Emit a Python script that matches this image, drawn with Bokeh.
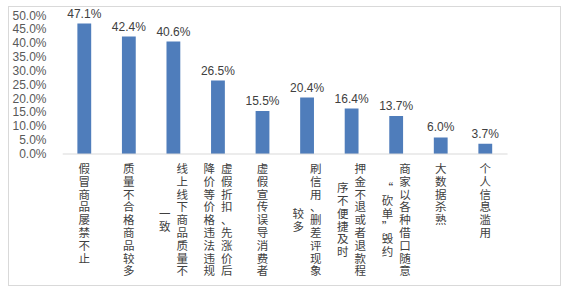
from bokeh.plotting import figure
from bokeh.models import FixedTicker, ColumnDataSource
from bokeh.core.properties import value
from bokeh.embed import file_html
from bokeh.resources import INLINE

categories = [
    "假冒商品屡禁不止",
    "质量不合格商品较多",
    "线上线下商品质量不一致",
    "虚假折扣、先涨价后降价等价格违法违规",
    "虚假宣传误导消费者",
    "刷信用、删差评现象较多",
    "押金不退或者退款程序不便捷及时",
    "商家以各种借口随意“砍单”毁约",
    "大数据杀熟",
    "个人信息滥用",
]
values = [0.471, 0.424, 0.406, 0.265, 0.155, 0.204, 0.164, 0.137, 0.060, 0.037]
value_labels = ["47.1%", "42.4%", "40.6%", "26.5%", "15.5%", "20.4%", "16.4%", "13.7%", "6.0%", "3.7%"]
y_ticks = [0.0, 0.05, 0.10, 0.15, 0.20, 0.25, 0.30, 0.35, 0.40, 0.45, 0.50]
y_tick_labels = ["0.0%", "5.0%", "10.0%", "15.0%", "20.0%", "25.0%", "30.0%", "35.0%", "40.0%", "45.0%", "50.0%"]

BAR = "#4f7dbb"
GRID = "#d9d9d9"
TXT = "#595959"

n = len(categories)
xs = list(range(n))

p = figure(
    width=553, height=280,
    x_range=(-0.489, 10.733), y_range=(-0.482, 0.529),
    output_backend="svg", toolbar_location=None,
    x_axis_location=None,
    min_border_left=47, min_border_right=0, min_border_top=0, min_border_bottom=0,
)
p.margin = (6, 0, 0, 8)
p.styles = {"border": "1px solid #d9d9d9"}
p.outline_line_color = None
p.grid.visible = False
p.background_fill_color = "white"
p.border_fill_color = "white"

ya = p.yaxis[0]
ya.ticker = FixedTicker(ticks=y_ticks)
ya.major_label_overrides = {t: l for t, l in zip(y_ticks, y_tick_labels)}
ya.axis_line_color = None
ya.major_tick_line_color = None
ya.minor_tick_line_color = None
ya.major_label_standoff = 10
ya.major_label_text_font = "Liberation Sans"
ya.major_label_text_font_size = "12px"
ya.major_label_text_color = TXT

src = ColumnDataSource(dict(x=xs, top=values, lab=value_labels))
p.vbar(x="x", top="top", bottom=0, width=0.31, source=src, fill_color=BAR, line_color=None)

# category axis line
p.segment(x0=[p.x_range.start], x1=[n - 0.5], y0=[0], y1=[0], line_color=GRID, line_width=1)

p.text(x="x", y="top", text="lab", source=src, text_align="center", text_baseline="bottom",
       y_offset=-3, text_font=value("Liberation Sans"), text_font_size="12px", text_color="#404040")

# vertical CJK category labels, one glyph per character
CH = 9
pitch = 12.8
cx, cy, ct, cxo, cyo = [], [], [], [], []
for i, lab in enumerate(categories):
    chunks = [lab[k:k + CH] for k in range(0, len(lab), CH)]
    ncol = len(chunks)
    mx = max(len(c) for c in chunks)
    for j, c in enumerate(chunks):
        for k, ch in enumerate(c):
            cx.append(i)
            cy.append(-6 / 276)
            ct.append(ch)
            cxo.append(((ncol - 1) / 2 - j) * 17.5)
            cyo.append(((mx - len(c)) / 2 + k) * pitch)
lsrc = ColumnDataSource(dict(x=cx, y=cy, t=ct, xo=cxo, yo=cyo))
p.text(x="x", y="y", text="t", x_offset="xo", y_offset="yo", source=lsrc,
       text_align="center", text_baseline="top",
       text_font=value("Noto Sans CJK SC"), text_font_size="11.5px", text_color="#404040")

open("out.html", "w").write(file_html(p, INLINE))
